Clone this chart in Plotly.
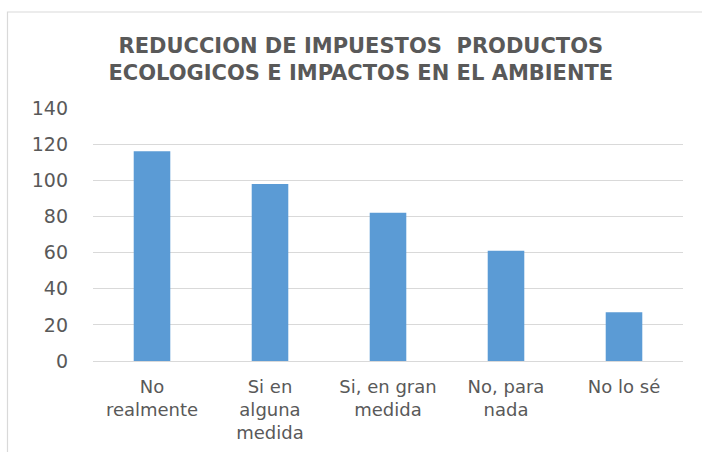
import plotly.graph_objects as go

categories = ["No<br>realmente", "Si en<br>alguna<br>medida", "Si, en gran<br>medida", "No, para<br>nada", "No lo sé"]
values = [116, 98, 82, 61, 27]
y_ticks = [0, 20, 40, 60, 80, 100, 120, 140]

W, H = 702, 452
ml, mr, mt, mb = 93, 19, 108, 91

fig = go.Figure(go.Bar(x=categories, y=values, marker=dict(color="#5b9bd5", line=dict(width=0)), width=0.31))

pw = W - ml - mr
ph = H - mt - mb
def px2paper_x(px): return (px - ml) / pw
def px2paper_y(py): return (H - mb - py) / ph

fig.add_shape(type="rect", xref="paper", yref="paper",
              x0=px2paper_x(7.5), x1=px2paper_x(720), y0=px2paper_y(470), y1=px2paper_y(12),
              line=dict(color="#d9d9d9", width=1.2), layer="below")

fig.update_layout(
    width=W, height=H,
    margin=dict(l=ml, r=mr, t=mt, b=mb),
    paper_bgcolor="white", plot_bgcolor="white",
    title=dict(text="<b>REDUCCION DE IMPUESTOS&nbsp; PRODUCTOS<br>ECOLOGICOS E IMPACTOS EN EL AMBIENTE</b>",
               x=0.514, xanchor="center", y=1 - 53/H, yanchor="middle",
               font=dict(family="DejaVu Sans", size=21, color="#595959")),
    showlegend=False,
)
fig.update_yaxes(range=[0, 140], tickvals=y_ticks, showgrid=True, gridcolor="#d9d9d9", gridwidth=1,
                 zeroline=False, showline=False, ticks="", ticklen=0, ticklabelstandoff=24,
                 automargin=False,
                 tickfont=dict(family="DejaVu Sans", size=19, color="#595959"))
fig.update_xaxes(showline=True, linecolor="#d9d9d9", linewidth=1, ticks="", showgrid=False,
                 ticklabelstandoff=9, automargin=False,
                 tickfont=dict(family="DejaVu Sans", size=18, color="#595959"))

fig.write_html("out.html", config={"displayModeBar": False},
               post_script="document.body.style.margin='0';")
